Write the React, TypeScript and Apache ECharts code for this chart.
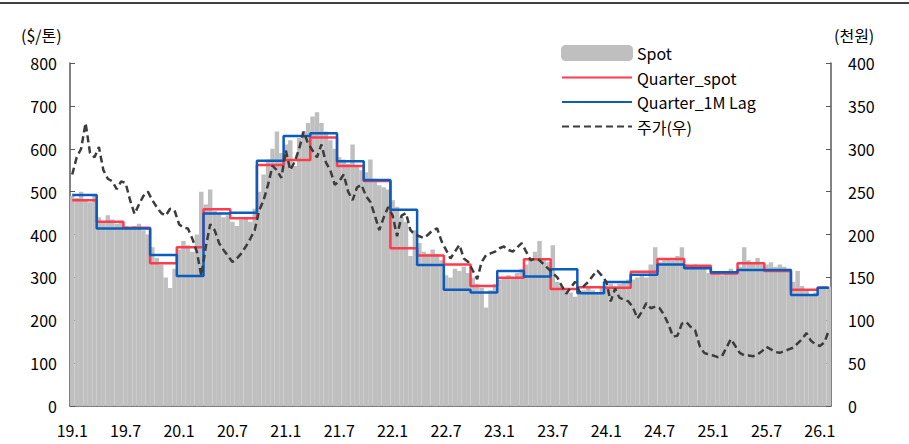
import React, { useEffect, useRef } from "react";
import * as echarts from "echarts";

// x-axis tick labels (every 6 months)
const tickLabels = ["19.1", "19.7", "20.1", "20.7", "21.1", "21.7", "22.1", "22.7", "23.1", "23.7", "24.1", "24.7", "25.1", "25.7", "26.1"];

// Spot ($/톤), semi-monthly, 2019.1 first half .. 2026.2 first half
const spot = [
  490, 485, 500, 480, 475, 490, 440, 430, 445, 435, 425, 430,
  420, 415, 420, 425, 410, 400, 370, 345, 330, 300, 275, 320,
  365, 385, 375, 360, 400, 500, 470, 505, 455, 450, 440, 445,
  430, 420, 435, 440, 430, 460, 500, 540, 575, 600, 640, 590,
  610, 620, 560, 625, 640, 660, 675, 685, 660, 640, 620, 600,
  580, 575, 565, 610, 560, 550, 545, 575, 530, 515, 510, 505,
  480, 465, 440, 430, 350, 410, 380, 360, 355, 365, 355, 340,
  305, 300, 320, 315, 325, 310, 300, 285, 275, 230, 270, 285,
  295, 300, 305, 300, 310, 320, 330, 340, 360, 385, 340, 335,
  375, 290, 280, 270, 265, 255, 260, 270, 275, 270, 265, 275,
  280, 285, 280, 285, 290, 295, 295, 300, 305, 300, 330, 370,
  335, 340, 345, 340, 350, 370, 330, 325, 330, 320, 320, 310,
  315, 310, 305, 315, 320, 315, 325, 370, 340, 335, 345, 330,
  330, 335, 325, 330, 325, 320, 290, 315, 280, 270, 260, 265,
  275, 280, 278,
];

// Quarterly contract prices ($/톤), Q1'19 .. Q1'26
const quarterSpot = [480, 430, 416, 333, 370, 459, 438, 562, 574, 626, 560, 525, 368, 351, 330, 280, 299, 342, 273, 277, 276, 313, 343, 327, 309, 333, 315, 271, 276];
const quarterLag = [492, 414, 414, 352, 303, 449, 451, 572, 630, 636, 571, 527, 458, 329, 271, 265, 315, 302, 319, 263, 289, 306, 330, 321, 312, 317, 317, 259, 276];

// 주가 (천원), semi-monthly
const stock = [
  270, 290, 300, 330, 295, 290, 302, 275, 265, 262, 253, 262,
  260, 240, 224, 235, 245, 250, 240, 232, 225, 222, 230, 228,
  212, 208, 207, 195, 180, 152, 185, 212, 205, 190, 182, 175,
  168, 172, 178, 186, 195, 205, 228, 240, 258, 280, 275, 266,
  298, 275, 285, 300, 320, 306, 298, 290, 305, 284, 275, 258,
  262, 270, 250, 240, 255, 258, 245, 238, 222, 205, 220, 232,
  222, 198, 222, 225, 205, 200, 198, 196, 200, 205, 207, 192,
  182, 172, 180, 188, 172, 168, 158, 148, 168, 176, 178, 180,
  184, 186, 182, 180, 185, 190, 180, 170, 172, 170, 165, 160,
  155, 150, 140, 131, 138, 145, 133, 140, 145, 152, 158, 152,
  145, 122, 137, 126, 124, 122, 115, 102, 110, 120, 114, 116,
  114, 106, 95, 81, 82, 96, 98, 92, 88, 70, 62, 60,
  59, 57, 58, 68, 78, 70, 62, 59, 59, 58, 60, 64,
  69, 66, 63, 62, 64, 66, 68, 73, 78, 85, 76, 72,
  70, 74, 88,
];

const FONT = "'Noto Sans CJK KR', 'Noto Sans', sans-serif";

export default function App() {
  const ref = useRef<HTMLDivElement>(null);

  useEffect(() => {
    document.body.style.margin = "0";
    if (!ref.current) return;
    const chart = echarts.init(ref.current, null, { renderer: "svg" });

    const n = spot.length;
    const categories: string[] = [];
    for (let i = 0; i < n; i++) {
      const m = Math.floor(i / 2);
      const yy = 19 + Math.floor(m / 12);
      const mm = (m % 12) + 1;
      categories.push(`${yy}.${mm}-${i % 2 === 0 ? "a" : "b"}`);
    }
    // each quarter spans 6 semi-monthly periods
    const expand = (q: number[]) => categories.map((_, i) => q[Math.floor(i / 6)]);

    const tickShow = (index: number) => index % 12 === 0;

    chart.setOption({
      animation: false,
      textStyle: { fontFamily: FONT },
      grid: { left: 70, right: 78, top: 63, bottom: 38 },
      legend: {
        orient: "vertical",
        left: 556,
        top: 40,
        itemWidth: 70,
        itemHeight: 14,
        itemGap: 8.5,
        textStyle: { fontSize: 16, color: "#000", fontFamily: FONT },
        data: [
          { name: "Spot" },
          { name: "Quarter_spot", itemStyle: { opacity: 0 } },
          { name: "Quarter_1M Lag", itemStyle: { opacity: 0 } },
          { name: "주가(우)", itemStyle: { opacity: 0 } },
        ],
      },
      xAxis: {
        type: "category",
        data: categories,
        boundaryGap: true,
        axisLine: { lineStyle: { color: "#595959", width: 1.5 } },
        axisTick: { inside: true, length: 5, interval: tickShow, lineStyle: { color: "#595959" } },
        axisLabel: {
          interval: tickShow,
          formatter: (_v: string, index: number) => tickLabels[index / 12] ?? "",
          fontSize: 16,
          color: "#000",
          margin: 16,
          fontFamily: FONT,
        },
        splitLine: { show: false },
      },
      yAxis: [
        {
          type: "value",
          min: 0,
          max: 800,
          interval: 100,
          axisLine: { show: true, lineStyle: { color: "#595959", width: 1.5 } },
          axisTick: { show: true, inside: true, length: 5, lineStyle: { color: "#595959" } },
          axisLabel: { fontSize: 16, color: "#000", margin: 13, fontFamily: FONT },
          splitLine: { show: false },
        },
        {
          type: "value",
          min: 0,
          max: 400,
          interval: 50,
          axisLine: { show: true, lineStyle: { color: "#595959", width: 1.5 } },
          axisTick: { show: true, inside: true, length: 5, lineStyle: { color: "#595959" } },
          axisLabel: { fontSize: 16, color: "#000", margin: 17, fontFamily: FONT },
          splitLine: { show: false },
        },
      ],
      graphic: [
        { type: "line", shape: { x1: 0, y1: 3, x2: 909, y2: 3 }, style: { stroke: "#000", lineWidth: 1.5 } },
        { type: "text", left: 21, top: 27, style: { text: "($/톤)", fontSize: 16, fill: "#000", fontFamily: FONT } },
        { type: "text", left: 834, top: 27, style: { text: "(천원)", fontSize: 16, fill: "#000", fontFamily: FONT } },
      ],
      series: [
        {
          name: "Spot",
          type: "bar",
          data: spot,
          barCategoryGap: "0%",
          barGap: "0%",
          itemStyle: { color: "#BFBFBF", borderColor: "#BFBFBF", borderWidth: 1.5 },
          yAxisIndex: 0,
        },
        {
          name: "Quarter_spot",
          type: "line",
          data: expand(quarterSpot),
          step: "middle",
          symbol: "none",
          lineStyle: { color: "#FF3B4E", width: 2.5 },
          itemStyle: { color: "#FF3B4E" },
          yAxisIndex: 0,
        },
        {
          name: "Quarter_1M Lag",
          type: "line",
          data: expand(quarterLag),
          step: "middle",
          symbol: "none",
          lineStyle: { color: "#0A5CBF", width: 2.5 },
          itemStyle: { color: "#0A5CBF" },
          yAxisIndex: 0,
        },
        {
          name: "주가(우)",
          type: "line",
          data: stock,
          symbol: "none",
          lineStyle: { color: "#3C3C3C", width: 2.5, type: [7, 4] },
          itemStyle: { color: "#3C3C3C" },
          yAxisIndex: 1,
        },
      ],
    });

    return () => chart.dispose();
  }, []);

  return <div ref={ref} style={{ width: 909, height: 444 }} />;
}
